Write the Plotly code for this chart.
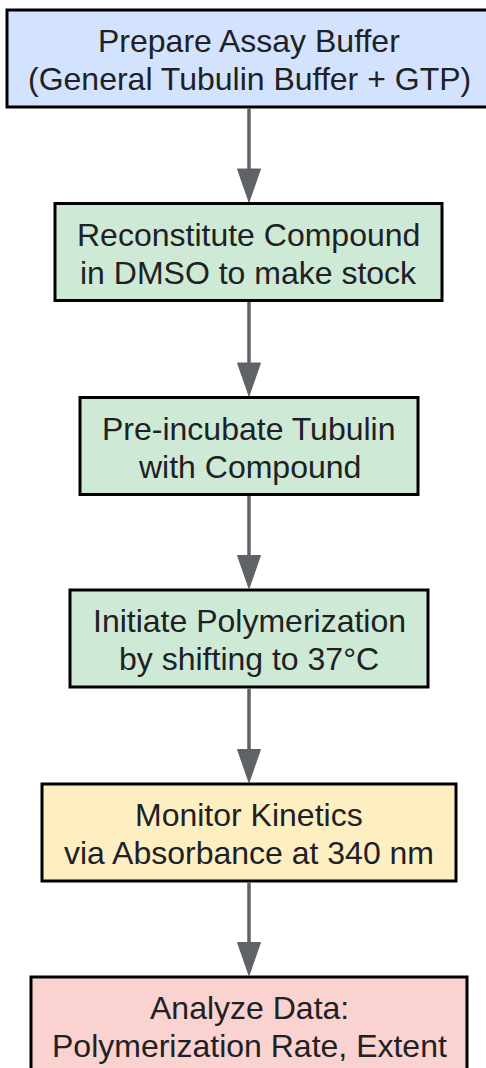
import plotly.graph_objects as go

# Flowchart content (each step: two text lines)
steps = [
    ["Prepare Assay Buffer", "(General Tubulin Buffer + GTP)"],
    ["Reconstitute Compound", "in DMSO to make stock"],
    ["Pre-incubate Tubulin", "with Compound"],
    ["Initiate Polymerization", "by shifting to 37°C"],
    ["Monitor Kinetics", "via Absorbance at 340 nm"],
    ["Analyze Data:", "Polymerization Rate, Extent"],
]
fill_colors = ["#d3e3fd", "#ceead6", "#ceead6", "#ceead6", "#feefc3", "#fad2cf"]

# Layout (pixel space)
W, H = 486, 1068
box_cx = [249, 248.5, 249, 249, 249, 249]
box_cy = [58.5, 252, 446, 638.5, 832.5, 1025.5]
box_w = [484, 387, 338, 358, 414, 436]
box_h = 97
line_gap = 38

shapes = []
annotations = []
for i, lines in enumerate(steps):
    x0 = box_cx[i] - box_w[i] / 2
    x1 = box_cx[i] + box_w[i] / 2
    y0 = box_cy[i] - box_h / 2
    y1 = box_cy[i] + box_h / 2
    shapes.append(dict(type="rect", xref="x", yref="y", x0=x0, x1=x1, y0=y0, y1=y1,
                       fillcolor=fill_colors[i], line=dict(color="#000000", width=3)))
    n = len(lines)
    for j, txt in enumerate(lines):
        yy = box_cy[i] + (j - (n - 1) / 2) * line_gap + 1.5
        annotations.append(dict(x=box_cx[i], y=yy, xref="x", yref="y", text=txt,
                                showarrow=False, align="center", yanchor="middle",
                                font=dict(family="Liberation Sans, Arial, sans-serif", size=32,
                                          color="#202124")))

arrow_color = "#5f6368"
head_len, head_w = 33, 23
for i in range(len(steps) - 1):
    ax = 249
    ya = box_cy[i] + box_h / 2 + 1.5
    yb = box_cy[i + 1] - box_h / 2 - 1.5
    shapes.append(dict(type="line", xref="x", yref="y", x0=ax, x1=ax, y0=ya, y1=yb - head_len + 2,
                       line=dict(color=arrow_color, width=3.5)))
    shapes.append(dict(type="path", xref="x", yref="y",
                       path=f"M {ax - head_w/2} {yb - head_len} L {ax + head_w/2} {yb - head_len} L {ax} {yb} Z",
                       fillcolor=arrow_color, line=dict(color=arrow_color, width=1)))

fig = go.Figure()
fig.update_layout(
    width=W, height=H,
    margin=dict(l=0, r=0, t=0, b=0),
    paper_bgcolor="white", plot_bgcolor="white",
    xaxis=dict(range=[0, W], visible=False, fixedrange=True),
    yaxis=dict(range=[H, 0], visible=False, fixedrange=True),
    shapes=shapes, annotations=annotations, showlegend=False,
)
fig.write_html("out.html", config={"displayModeBar": False},
               post_script="document.body.style.margin='0';document.body.style.overflow='hidden';")
